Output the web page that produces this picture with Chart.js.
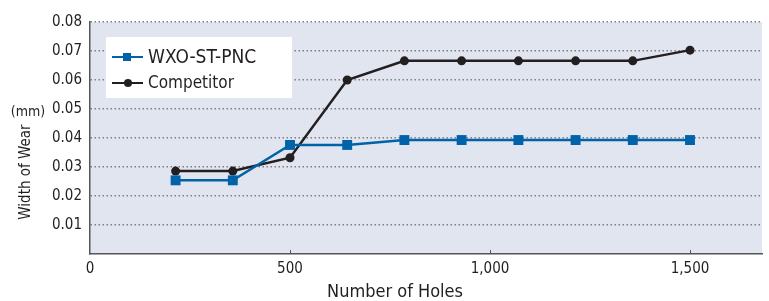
<!DOCTYPE html>
<html>
<head>
<meta charset="utf-8">
<script src="https://cdn.jsdelivr.net/npm/chart.js@4/dist/chart.umd.min.js"></script>
<style>
  html, body { margin: 0; padding: 0; background: #fff; }
  #wrap { width: 769px; height: 301px; position: relative; }
</style>
</head>
<body>
<div id="wrap"><canvas id="wearChart" width="769" height="301"></canvas></div>
<script>
// values
const holes = [214, 357, 500, 643, 786, 929, 1071, 1214, 1357, 1500];
const wxoWear = [0.0254, 0.0254, 0.0376, 0.0376, 0.0393, 0.0393, 0.0393, 0.0393, 0.0393, 0.0393];
const competitorWear = [0.0286, 0.0286, 0.0332, 0.0600, 0.0666, 0.0666, 0.0666, 0.0666, 0.0666, 0.0703];
const xTicks = [0, 500, 1000, 1500];
const yTicks = [0.01, 0.02, 0.03, 0.04, 0.05, 0.06, 0.07, 0.08];
const seriesNames = ['WXO-ST-PNC', 'Competitor'];

const FONT = '"Liberation Sans Narrow", "DejaVu Sans Condensed", sans-serif';
const TEXT = '#231f20';

const toPoints = (ys) => ys.map((y, i) => ({ x: holes[i], y: y }));

// light plot background, inward x ticks, axis titles and the boxed legend
const decor = {
    id: 'decor',
    beforeDraw(chart) {
        const { ctx, chartArea: a } = chart;
        ctx.save();
        ctx.fillStyle = '#e1e5f0';
        ctx.fillRect(a.left, a.top, a.right - a.left, a.bottom - a.top);
        ctx.restore();
    },
    afterDraw(chart) {
        const { ctx, chartArea: a } = chart;
        const xs = chart.scales.x;
        ctx.save();

        ctx.strokeStyle = '#555';
        ctx.lineWidth = 1;
        xTicks.slice(1).forEach(v => {
            const px = Math.round(xs.getPixelForValue(v)) + 0.5;
            ctx.beginPath();
            ctx.moveTo(px, a.bottom);
            ctx.lineTo(px, a.bottom - 4);
            ctx.stroke();
        });

        ctx.fillStyle = TEXT;
        ctx.font = '18px ' + FONT;
        ctx.textAlign = 'center';
        ctx.textBaseline = 'middle';
        ctx.fillText('Number of Holes', 395, 292);

        ctx.font = '14px ' + FONT;
        ctx.fillText('(mm)', 28, 112);

        ctx.save();
        ctx.translate(26, 172);
        ctx.rotate(-Math.PI / 2);
        ctx.font = '15px ' + FONT;
        ctx.fillText('Width of Wear', 0, 0);
        ctx.restore();

        // legend box
        ctx.fillStyle = '#fff';
        ctx.fillRect(106, 37, 186, 61);
        const rows = [
            { y: 57, size: 19 },
            { y: 83, size: 17 }
        ];
        chart.data.datasets.forEach((ds, i) => {
            const r = rows[i];
            ctx.strokeStyle = ds.borderColor;
            ctx.lineWidth = 2;
            ctx.beginPath();
            ctx.moveTo(112, r.y);
            ctx.lineTo(143, r.y);
            ctx.stroke();
            ctx.fillStyle = ds.pointBackgroundColor;
            if (ds.pointStyle === 'rect') {
                ctx.fillRect(123, r.y - 4, 8, 8);
            } else {
                ctx.beginPath();
                ctx.arc(128, r.y, 4, 0, Math.PI * 2);
                ctx.fill();
            }
            ctx.fillStyle = TEXT;
            ctx.font = r.size + 'px ' + FONT;
            ctx.textAlign = 'left';
            ctx.fillText(ds.label, 148, r.y + 1);
        });
        ctx.restore();
    }
};

new Chart(document.getElementById('wearChart'), {
    type: 'line',
    data: {
        datasets: [{
            label: seriesNames[0],
            data: toPoints(wxoWear),
            borderColor: '#0062a8',
            pointBackgroundColor: '#0062a8',
            pointBorderColor: '#0062a8',
            borderWidth: 2.5,
            pointStyle: 'rect',
            pointRadius: 7,
            pointBorderWidth: 0,
            tension: 0
        }, {
            label: seriesNames[1],
            data: toPoints(competitorWear),
            borderColor: '#231f20',
            pointBackgroundColor: '#231f20',
            pointBorderColor: '#231f20',
            borderWidth: 2.5,
            pointStyle: 'circle',
            pointRadius: 4.5,
            pointBorderWidth: 0,
            tension: 0
        }]
    },
    options: {
        responsive: false,
        animation: false,
        layout: { padding: { left: 0, top: 22, right: 7, bottom: 0 } },
        plugins: {
            legend: { display: false },
            tooltip: { enabled: false }
        },
        scales: {
            x: {
                type: 'linear',
                min: 0,
                max: 1680,
                afterBuildTicks: s => { s.ticks = xTicks.map(v => ({ value: v })); },
                afterFit: s => { s.height = 47; },
                grid: { display: false, drawTicks: false },
                border: { display: true, color: '#555', width: 1.5 },
                ticks: {
                    padding: 6,
                    color: TEXT,
                    font: { family: FONT, size: 15 },
                    callback: v => v.toLocaleString('en-US')
                }
            },
            y: {
                min: 0,
                max: 0.08,
                afterBuildTicks: s => { s.ticks = yTicks.map(v => ({ value: v })); },
                afterFit: s => { s.width = 90; },
                grid: {
                    color: '#808080',
                    lineWidth: 1.5,
                    drawTicks: false
                },
                border: { display: true, color: '#555', width: 1.5, dash: [1.5, 2.5] },
                ticks: {
                    padding: 8,
                    color: TEXT,
                    font: { family: FONT, size: 15 },
                    callback: v => v.toFixed(2)
                }
            }
        }
    },
    plugins: [decor]
});
</script>
</body>
</html>
